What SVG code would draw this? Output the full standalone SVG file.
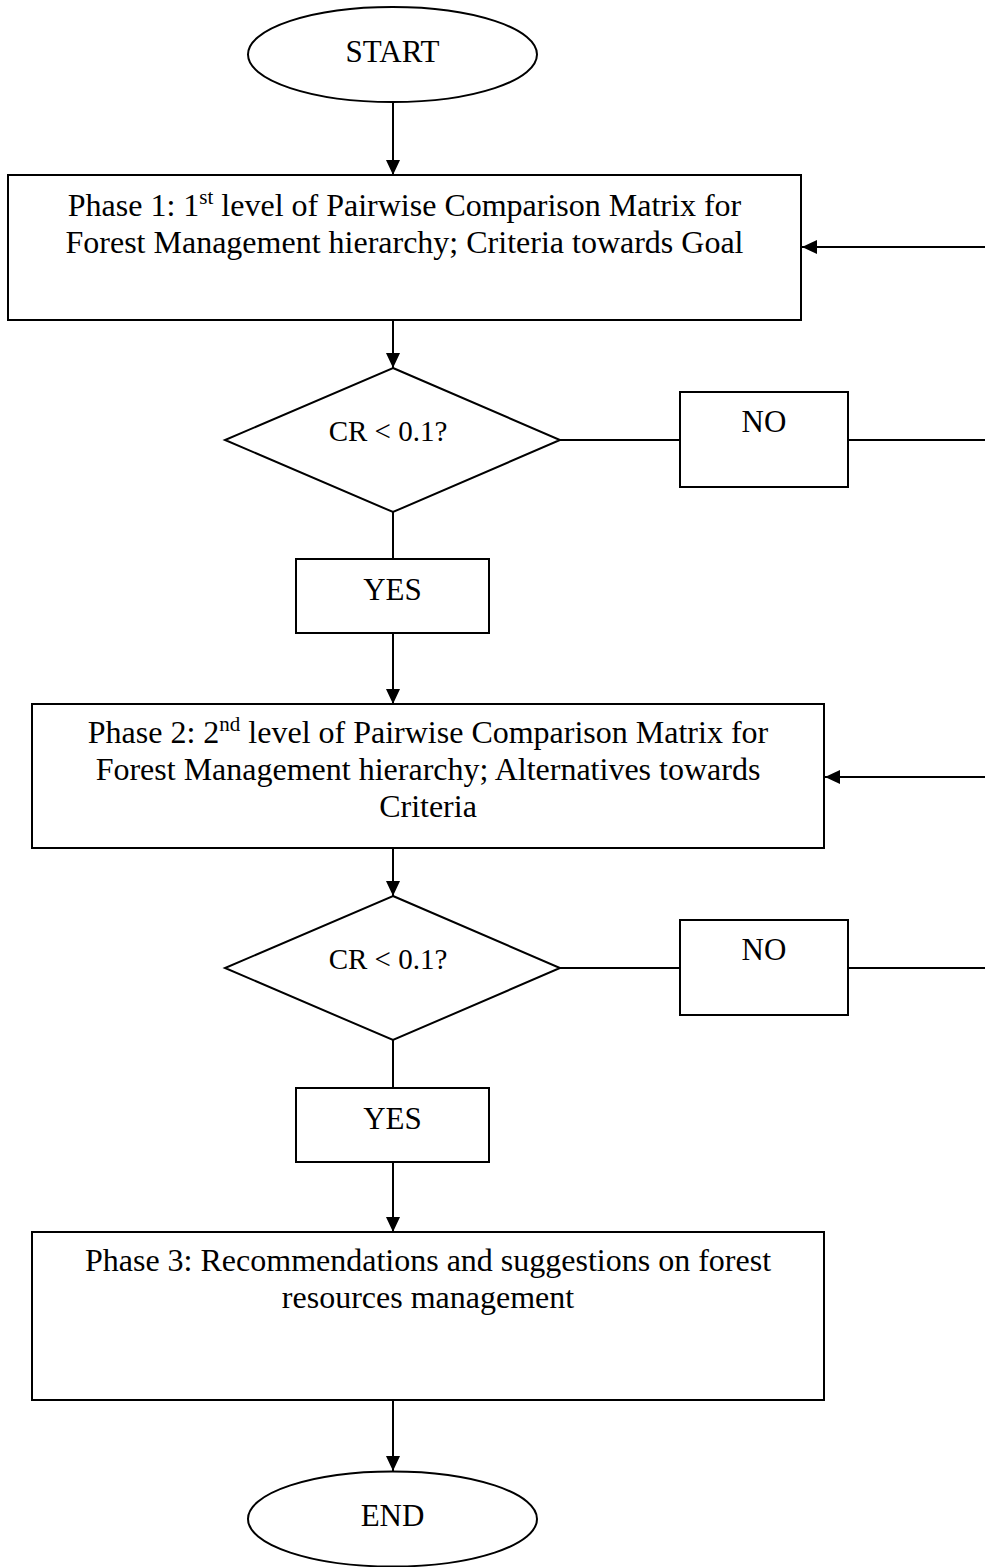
<svg xmlns="http://www.w3.org/2000/svg" width="985" height="1567" viewBox="0 0 985 1567">
<style>
.s{fill:#fff;stroke:#000;stroke-width:2}
.t{font-family:"Liberation Serif","Times New Roman",serif;fill:#000}
.p{font-size:32px}
.l{font-size:31px}
.c{font-size:29px}
.e{fill:none;stroke:#000;stroke-width:2}
</style>
<defs>
<marker id="ah" markerUnits="userSpaceOnUse" markerWidth="15" markerHeight="14" refX="15" refY="7" orient="auto">
<path d="M0,0 L15,7 L0,14 Z" fill="#000"/>
</marker>
</defs>
<rect width="985" height="1567" fill="#fff"/>
<g id="connectors">
<line class="e" x1="393" y1="102" x2="393" y2="175" marker-end="url(#ah)"/>
<line class="e" x1="393" y1="320" x2="393" y2="368" marker-end="url(#ah)"/>
<line class="e" x1="393" y1="512" x2="393" y2="559"/>
<line class="e" x1="393" y1="633" x2="393" y2="704" marker-end="url(#ah)"/>
<line class="e" x1="560" y1="440" x2="680" y2="440"/>
<line class="e" x1="848" y1="440" x2="985" y2="440"/>
<line class="e" x1="985" y1="247" x2="802" y2="247" marker-end="url(#ah)"/>
<line class="e" x1="393" y1="848" x2="393" y2="896" marker-end="url(#ah)"/>
<line class="e" x1="393" y1="1040" x2="393" y2="1088"/>
<line class="e" x1="393" y1="1162" x2="393" y2="1232" marker-end="url(#ah)"/>
<line class="e" x1="560" y1="968" x2="680" y2="968"/>
<line class="e" x1="848" y1="968" x2="985" y2="968"/>
<line class="e" x1="985" y1="777" x2="825" y2="777" marker-end="url(#ah)"/>
<line class="e" x1="393" y1="1400" x2="393" y2="1471" marker-end="url(#ah)"/>
</g>
<g id="start">
<ellipse class="s" cx="392.5" cy="54.5" rx="144.5" ry="47.5"/>
<text class="t l" x="392.5" y="62" text-anchor="middle">START</text>
</g>
<g id="phase1">
<rect class="s" x="8" y="175" width="793" height="145"/>
<text class="t p" x="404.5" y="216" text-anchor="middle">Phase 1: 1<tspan font-size="21" dy="-12">st</tspan><tspan dy="12"> level of Pairwise Comparison Matrix for</tspan></text>
<text class="t p" x="404.5" y="253" text-anchor="middle">Forest Management hierarchy; Criteria towards Goal</text>
</g>
<g id="decision1">
<polygon class="s" points="393,368 560,440 393,512 225,440"/>
<text class="t c" x="388" y="441" text-anchor="middle">CR &lt; 0.1?</text>
</g>
<g id="no1">
<rect class="s" x="680" y="392" width="168" height="95"/>
<text class="t l" x="764" y="432" text-anchor="middle">NO</text>
</g>
<g id="yes1">
<rect class="s" x="296" y="559" width="193" height="74"/>
<text class="t l" x="392.5" y="600" text-anchor="middle">YES</text>
</g>
<g id="phase2">
<rect class="s" x="32" y="704" width="792" height="144"/>
<text class="t p" x="428" y="743" text-anchor="middle">Phase 2: 2<tspan font-size="21" dy="-12">nd</tspan><tspan dy="12"> level of Pairwise Comparison Matrix for</tspan></text>
<text class="t p" x="428" y="780" text-anchor="middle">Forest Management hierarchy; Alternatives towards</text>
<text class="t p" x="428" y="817" text-anchor="middle">Criteria</text>
</g>
<g id="decision2">
<polygon class="s" points="393,896 560,968 393,1040 225,968"/>
<text class="t c" x="388" y="969" text-anchor="middle">CR &lt; 0.1?</text>
</g>
<g id="no2">
<rect class="s" x="680" y="920" width="168" height="95"/>
<text class="t l" x="764" y="960" text-anchor="middle">NO</text>
</g>
<g id="yes2">
<rect class="s" x="296" y="1088" width="193" height="74"/>
<text class="t l" x="392.5" y="1129" text-anchor="middle">YES</text>
</g>
<g id="phase3">
<rect class="s" x="32" y="1232" width="792" height="168"/>
<text class="t p" x="428" y="1271" text-anchor="middle">Phase 3: Recommendations and suggestions on forest</text>
<text class="t p" x="428" y="1308" text-anchor="middle">resources management</text>
</g>
<g id="end">
<ellipse class="s" cx="392.5" cy="1519" rx="144.5" ry="47.5"/>
<text class="t l" x="392.5" y="1526" text-anchor="middle">END</text>
</g>
</svg>
